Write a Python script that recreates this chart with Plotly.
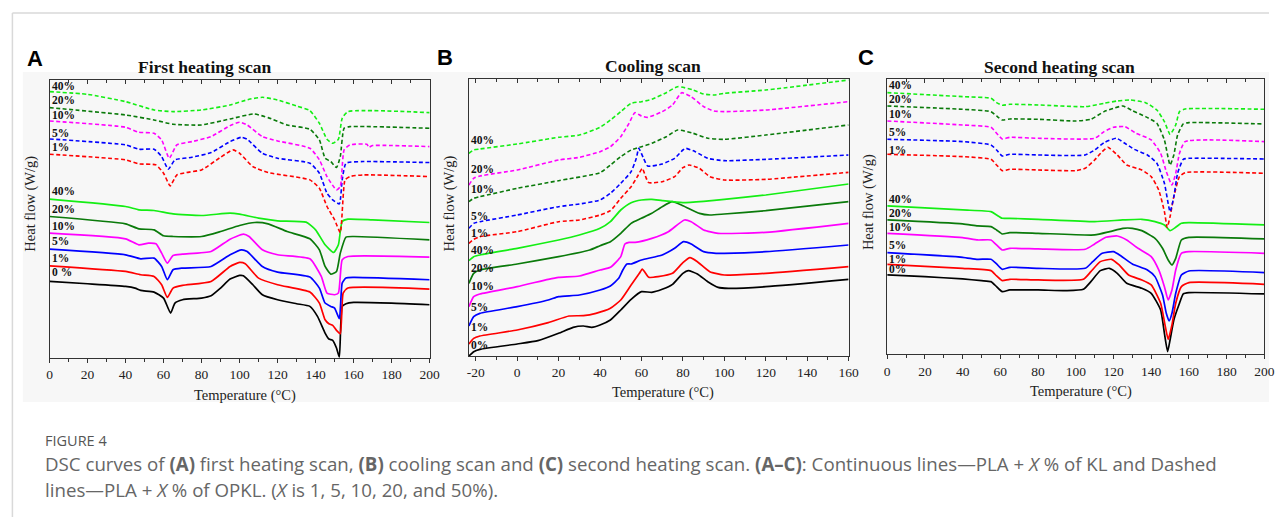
import plotly.graph_objects as go

# ---------------- DATA (heat flow in arbitrary units) ----------------
# Panel A: first heating scan
fh_kl_T = {
    "0 %": [0,20,40,45,48,55,60,63.7,66,70,80,85,90,95,100,102,107,112,120,130,137,141,145,147,149,151,152.5,154,156,160,180,200],
    "1%":  [0,40,48,55,59,62,65,70,85,95,100,103,110,120,137,142,145,147,149,151,153,154.5,157,200],
    "5%":  [0,40,48,55,59,62,65,70,85,95,101,104,112,120,137,142,145,148,150,152.5,154,156,160,200],
    "10%": [0,40,47,52,56,59,62,65,70,85,95,102,105,112,120,137,143,146,150,152,154,157,200],
    "20%": [0,40,47,55,60,65,80,90,100,108,115,125,137,142,145,148,151,153,156,160,200],
    "40%": [0,40,47,55,65,80,95,100,110,120,135,140,145,149.5,152,154,157,170,200],
}
fh_kl_HF = {
    "0 %": [275,268,260,255,248,243,225,180,210,220,225,232,255,282,293,292,265,235,220,208,200,170,120,102,98,75,48,200,208,212,210,205],
    "1%":  [322,305,295,290,265,227,255,263,275,320,332,328,285,265,243,210,160,148,143,128,118,240,255,252],
    "5%":  [372,355,343,345,320,280,310,315,320,355,370,365,320,303,288,255,210,200,195,163,270,285,287,280],
    "10%": [420,403,385,390,388,360,330,353,357,365,402,417,410,370,355,343,290,240,235,240,340,350,348],
    "20%": [470,448,433,430,412,410,410,425,443,452,448,425,403,370,320,297,305,360,408,410,400],
    "40%": [522,500,490,488,478,473,480,477,465,457,453,430,385,362,385,455,462,460,452],
}
fh_opkl_T = {
    "1%":  [0,40,47,56,60,63.5,67,72,80,90,96.5,100,107,115,137,142,146,150,153,155.5,158,165,200],
    "5%":  [0,40,47,55,59,62.5,66,75,85,95,101,104,112,120,137,142,146,149,152.5,154,156,165,200],
    "10%": [0,40,47,55,59,63,67,75,85,95,100,104,112,120,137,142,146,151,153,155,158,167,168,170,200],
    "20%": [0,40,55,65,80,95,107.5,115,125,137,142,145,148,151,153,155,158,200],
    "40%": [0,20,40,55,65,80,95,105,112,120,130,137,142,146,149,152,154,157,200],
}
fh_opkl_HF = {
    "1%":  [657,640,628,625,600,562,595,602,610,648,670,660,620,602,580,555,500,460,422,580,590,595,590],
    "5%":  [703,685,672,672,650,612,640,648,662,695,708,702,660,645,630,600,540,520,508,580,630,635,632],
    "10%": [757,738,723,720,700,645,685,695,710,743,753,745,710,697,675,640,590,550,560,670,685,687,678,683,680],
    "20%": [797,775,760,747,745,763,778,767,745,732,700,645,635,617,650,735,740,735],
    "40%": [845,837,815,790,785,790,805,822,828,820,802,788,750,702,690,702,765,785,782],
}
fh_label_text = ["40%", "20%", "10%", "5%", "1%", "40%", "20%", "10%", "5%", "1%", "0 %"]
fh_label_HF = [862, 820, 775, 720, 678, 548, 492, 440, 395, 345, 302]
fh_tick_vals = [0, 20, 40, 60, 80, 100, 120, 140, 160, 180, 200]
fh_tick_text = ["0", "20", "40", "60", "80", "100", "120", "140", "160", "180", "200"]

# Panel B: cooling scan
cool_kl_T = {
    "0%":  [-23.3,-21,-18,0,10,20,27,32,36,40,45,50,55,60,65,70,75,80,82.6,87,92,97,102,120,160],
    "1%":  [-23.3,-21,-18,0,15,25,32,38,45,50,55,59,60.4,62,63.5,68,75,80,83.4,87,93,100,120,160],
    "5%":  [-23.3,-21,-18,0,15,20,30,40,45,49,51,53,55,60,70,76,80.3,84,90,96,100,120,160],
    "10%": [-23.3,-21,-18,0,15,20,30,40,45,50,52,54,57,65,73,80.7,84,90,97,120,160],
    "20%": [-23.3,-21,-18,0,20,35,40,45,50,55,60,65,70,74.8,80,88,93,100,120,160],
    "40%": [-23.3,-21,-18,0,20,30,40,45,50,55,60,65,70,80,90,100,120,160],
}
cool_kl_HF = {
    "0%":  [52,65,72,88,98,120,138,142,138,145,160,190,222,245,243,252,267,300,308,298,275,258,255,260,282],
    "1%":  [88,105,112,130,152,172,173,180,195,220,265,300,313,300,288,290,300,332,347,335,305,295,300,320],
    "5%":  [142,170,180,200,220,230,235,250,262,285,310,328,328,340,355,375,395,388,365,360,360,365,385],
    "10%": [200,230,238,260,282,288,292,310,318,350,388,393,393,405,425,460,455,430,420,423,450],
    "20%": [270,300,310,328,350,370,383,395,420,450,465,480,500,515,503,480,475,478,488,515],
    "40%": [338,350,355,375,400,415,435,455,490,512,520,522,518,512,516,522,535,568],
}
cool_opkl_T = {
    "1%":  [-23.3,-21,-18,0,20,30,40,45,50,55,58,60.4,62,63.5,70,76,80,83,88,93,100,120,160],
    "5%":  [-23.3,-21,-18,0,20,30,40,45,50,55,57.5,58.7,61,63,70,76,80,81.5,86,92,100,120,160],
    "10%": [-23.3,-21,-18,0,20,30,40,45,50,54,56.8,60,63,70,75,79.4,84,90,95,100,120,160],
    "20%": [-23.3,-21,-18,0,20,40,45,50,55,60,65,72,77.5,85,92,100,120,160],
    "40%": [-23.3,-21,-18,0,20,30,40,45,50,55,60,65,72,77.5,85,90,95,100,120,160],
}
cool_opkl_HF = {
    "1%":  [390,402,410,425,455,460,475,488,525,560,590,615,590,572,575,590,617,625,615,590,580,582,603],
    "5%":  [435,450,455,475,500,508,520,540,570,605,645,675,645,622,628,645,670,675,665,645,638,642,655],
    "10%": [565,585,592,610,640,648,665,680,710,750,782,772,768,785,805,842,830,800,787,785,790,815],
    "20%": [515,525,530,555,578,602,625,650,670,680,690,710,730,720,705,702,715,745],
    "40%": [660,670,673,688,708,715,738,760,785,810,815,822,842,860,850,838,835,840,850,880],
}
cool_label_text = ["40%", "20%", "10%", "5%", "1%", "40%", "20%", "10%", "5%", "1%", "0%"]
cool_label_HF = [700, 612, 552, 473, 420, 370, 315, 262, 200, 138, 85]
cool_tick_vals = [-20, 0, 20, 40, 60, 80, 100, 120, 140, 160]
cool_tick_text = ["-20", "0", "20", "40", "60", "80", "100", "120", "140", "160"]

# Panel C: second heating scan
sh_kl_T = {
    "0%":  [0,20,40,50,55,58,61,65,80,95,104,108,113,117.8,122,127,135,140,145,147,148.7,150,152,155,157,160,200],
    "1%":  [0,40,55,58,61,65,80,104,108,113,119,123,128,135,140,145,147.5,149,151,153,156,160,200],
    "5%":  [0,40,48,55,58,61,65,80,105,109,114,120,124,130,138,142,146,148,149.5,151,153,156,160,200],
    "10%": [0,40,48,55,58,61,65,80,105,110,116,122,127,133,140,144,147,149,151,153,156,160,200],
    "20%": [0,40,48,55,58,61,65,80,110,118,125,130,135,142,146,149,151,153,156,160,200],
    "40%": [0,40,55,58,61,65,80,110,125,135,142,147,150,153,156,160,200],
}
sh_kl_HF = {
    "0%":  [295,290,283,278,275,260,245,250,250,248,252,275,308,315,300,270,255,240,190,120,65,100,160,210,238,242,238],
    "1%":  [327,315,308,292,278,282,280,282,305,335,342,325,295,280,265,210,140,102,145,210,260,272,267],
    "5%":  [362,348,342,342,328,312,318,315,315,335,360,365,352,328,310,290,235,180,157,180,240,295,307,302],
    "10%": [420,407,400,400,385,370,375,373,372,388,408,412,400,375,350,310,260,220,250,310,360,365,360],
    "20%": [460,448,442,440,430,418,422,420,415,425,435,435,428,405,375,340,325,345,400,408,403],
    "40%": [502,490,485,475,465,465,462,455,460,462,455,445,428,438,450,452,445],
}
sh_opkl_T = {
    "1%":  [0,40,55,58,61,65,80,100,105,110,114,117,122,127,135,140,144,147,148.5,150,152,155,158,200],
    "5%":  [0,40,55,58,61,65,80,105,110,115,121.6,126,131,138,143,147,150,152,154,157,160,200],
    "10%": [0,40,55,58,61,65,80,110,115,120,126,132,140,145,148,151,153,155,158,200],
    "20%": [0,40,55,58,61,65,80,100,108,115,120,125,130,137,143,147,150,152,154,157,160,200],
    "40%": [0,40,55,58,61,65,80,105,115,122,128.6,137,143,147,150,153,155,158,200],
}
sh_opkl_HF = {
    "1%":  [657,650,642,625,608,612,610,608,615,640,665,678,655,625,610,590,550,485,438,470,530,590,602,600],
    "5%":  [702,695,685,670,652,657,655,655,670,692,705,690,672,655,630,570,485,530,600,642,645,643],
    "10%": [757,745,738,720,703,708,705,705,725,738,740,720,700,660,605,565,600,660,695,695],
    "20%": [802,792,785,772,760,763,762,757,762,785,795,802,788,770,750,700,625,655,715,748,752,748],
    "40%": [842,830,825,812,804,807,805,800,810,817,820,812,790,755,717,745,785,793,792],
}
sh_label_text = ["40%", "20%", "10%", "5%", "1%", "40%", "20%", "10%", "5%", "1%", "0%"]
sh_label_HF = [865, 823, 778, 723, 670, 522, 482, 440, 385, 344, 312]
sh_tick_vals = [0, 20, 40, 60, 80, 100, 120, 140, 160, 180, 200]
sh_tick_text = ["0", "20", "40", "60", "80", "100", "120", "140", "160", "180", "200"]

panel_titles = ["First heating scan", "Cooling scan", "Second heating scan"]
panel_letters = ["A", "B", "C"]
x_title = "Temperature (°C)"
y_title = "Heat flow (W/g)"
x_ranges = [[0, 200], [-23.3, 160], [0, 200]]
hf_ranges = [[45, 880], [52, 883], [57, 882]]

caption_head = "FIGURE 4"
caption_1 = ("DSC curves of <b>(A)</b> first heating scan, <b>(B)</b> cooling scan and <b>(C)</b> second heating scan. "
             "<b>(A–C)</b>: Continuous lines—PLA + <i>X</i> % of KL and Dashed")
caption_2 = "lines—PLA + <i>X</i> % of OPKL. (<i>X</i> is 1, 5, 10, 20, and 50%)."

# ---------------- STYLE ----------------
W, H = 1279, 517
COL = {"0%": "#000000", "0 %": "#000000", "1%": "#ff0000", "5%": "#0000ff",
       "10%": "#ff00ff", "20%": "#0a7a0a", "40%": "#14ee14"}
SERIF = "Liberation Serif"
AX = "#333333"


def px(x):
    return x / W


def py(y):
    return 1 - y / H


# pixel boxes of plot areas: (left, right, top, bottom)
boxes = [(47, 431, 80, 358), (470.7, 854.3, 79, 356), (893.3, 1274.3, 79.3, 354.3)]

fig = go.Figure()

panels = [
    (fh_kl_T, fh_kl_HF, fh_opkl_T, fh_opkl_HF, fh_label_text, fh_label_HF, fh_tick_vals, fh_tick_text),
    (cool_kl_T, cool_kl_HF, cool_opkl_T, cool_opkl_HF, cool_label_text, cool_label_HF,
     cool_tick_vals, cool_tick_text),
    (sh_kl_T, sh_kl_HF, sh_opkl_T, sh_opkl_HF, sh_label_text, sh_label_HF, sh_tick_vals, sh_tick_text),
]

annotations = []
layout_axes = {}
for i, (kT, kH, oT, oH, ltxt, lhf, tv, tt) in enumerate(panels):
    n = "" if i == 0 else str(i + 1)
    xa, ya = "x" + n, "y" + n
    for key in kT:
        fig.add_trace(go.Scatter(x=kT[key], y=kH[key], mode="lines", xaxis=xa, yaxis=ya,
                                 line=dict(color=COL[key], width=1.7, shape="spline", smoothing=0.5),
                                 hoverinfo="skip", showlegend=False))
    for key in oT:
        fig.add_trace(go.Scatter(x=oT[key], y=oH[key], mode="lines", xaxis=xa, yaxis=ya,
                                 line=dict(color=COL[key], width=1.6, dash="4px,2.5px",
                                           shape="spline", smoothing=0.5),
                                 hoverinfo="skip", showlegend=False))
    l, r, t, b = boxes[i]
    xdom = [px(l), px(r)]
    ydom = [py(b), py(t)]
    layout_axes["xaxis" + n] = dict(
        domain=xdom, range=x_ranges[i], anchor=ya, showline=True, linecolor=AX, linewidth=1.3,
        mirror=True, ticks="outside", ticklen=4, tickwidth=1.2, tickcolor=AX,
        tickmode="array", tickvals=tv, ticktext=tt, showgrid=False, zeroline=False,
        minor=dict(ticks="outside", ticklen=2.5, tickwidth=1, tickcolor=AX, tickmode="linear",
                   dtick=10, tick0=0),
        tickfont=dict(family=SERIF, size=13.5, color="#222"), ticklabelstandoff=0)
    layout_axes["yaxis" + n] = dict(
        domain=ydom, range=hf_ranges[i], anchor=xa, showline=True, linecolor=AX, linewidth=1.3,
        mirror=True, ticks="", showticklabels=False, showgrid=False, zeroline=False)
    # top inside ticks
    tn = str(i + 4)
    layout_axes["xaxis" + tn] = dict(
        overlaying=xa, side="top", anchor=ya, range=x_ranges[i], showline=False,
        ticks="inside", ticklen=4, tickwidth=1.2, tickcolor=AX, tick0=0, dtick=20,
        minor=dict(ticks="inside", ticklen=2.5, tickwidth=1, tickcolor=AX, dtick=10, tick0=0),
        showticklabels=False, showgrid=False, zeroline=False)
    fig.add_trace(go.Scatter(x=[None], y=[None], xaxis="x" + tn, yaxis=ya, showlegend=False,
                             hoverinfo="skip"))
    # curve labels
    for txt, hf in zip(ltxt, lhf):
        annotations.append(dict(x=x_ranges[i][0], y=hf, xref=xa, yref=ya, text="<b>" + txt + "</b>",
                                showarrow=False, xanchor="left", yanchor="middle", xshift=0,
                                font=dict(family=SERIF, size=11.5, color="#111")))

# titles, axis titles, letters
title_pos = [(204, 67), (657, 66), (1067, 67)]
xt_pos = [(244, 395), (667, 392), (1089, 391)]
yt_pos = [(28, 204), (451, 203), (874, 202)]
letter_pos = [(32, 58), (447, 57), (872, 57)]
for i in range(3):
    annotations.append(dict(x=px(title_pos[i][0]), y=py(title_pos[i][1]), xref="paper", yref="paper",
                            text="<b>" + panel_titles[i] + "</b>", showarrow=False,
                            xanchor="center", yanchor="middle",
                            font=dict(family=SERIF, size=17.5, color="#111")))
    annotations.append(dict(x=px(xt_pos[i][0]), y=py(xt_pos[i][1]), xref="paper", yref="paper",
                            text=x_title, showarrow=False, xanchor="center", yanchor="middle",
                            font=dict(family=SERIF, size=14.5, color="#222")))
    annotations.append(dict(x=px(yt_pos[i][0]), y=py(yt_pos[i][1]), xref="paper", yref="paper",
                            text=y_title, showarrow=False, xanchor="center", yanchor="middle",
                            textangle=-90, font=dict(family=SERIF, size=14.5, color="#222")))
    annotations.append(dict(x=px(letter_pos[i][0]), y=py(letter_pos[i][1]), xref="paper", yref="paper",
                            text="<b>" + panel_letters[i] + "</b>", showarrow=False,
                            xanchor="center", yanchor="middle",
                            font=dict(family="Liberation Sans", size=22, color="#000")))

# caption
annotations.append(dict(x=px(40), y=py(440), xref="paper", yref="paper", text=caption_head,
                        showarrow=False, xanchor="left", yanchor="middle",
                        font=dict(family="Open Sans", size=14.5, color="#555")))
annotations.append(dict(x=px(40), y=py(463), xref="paper", yref="paper", text=caption_1,
                        showarrow=False, xanchor="left", yanchor="middle",
                        font=dict(family="Open Sans", size=18.7, color="#666")))
annotations.append(dict(x=px(40), y=py(489), xref="paper", yref="paper", text=caption_2,
                        showarrow=False, xanchor="left", yanchor="middle",
                        font=dict(family="Open Sans", size=18.7, color="#666")))

shapes = [
    dict(type="rect", xref="paper", yref="paper", x0=px(20), x1=1, y0=py(402), y1=py(72),
         fillcolor="#f7f7f7", line=dict(width=0), layer="below"),
    dict(type="line", xref="paper", yref="paper", x0=px(9.5), x1=1, y0=py(13), y1=py(13),
         line=dict(color="#d9d9d9", width=1.5)),
    dict(type="line", xref="paper", yref="paper", x0=px(9.5), x1=px(9.5), y0=py(13), y1=0,
         line=dict(color="#d9d9d9", width=1.5)),
]

fig.update_layout(width=W, height=H, margin=dict(l=0, r=0, t=0, b=0),
                  paper_bgcolor="white", plot_bgcolor="rgba(0,0,0,0)",
                  showlegend=False, annotations=annotations, shapes=shapes, **layout_axes)

fig.write_html("out.html", config={"displayModeBar": False},
               post_script="document.body.style.margin='0';document.body.style.overflow='hidden';")
